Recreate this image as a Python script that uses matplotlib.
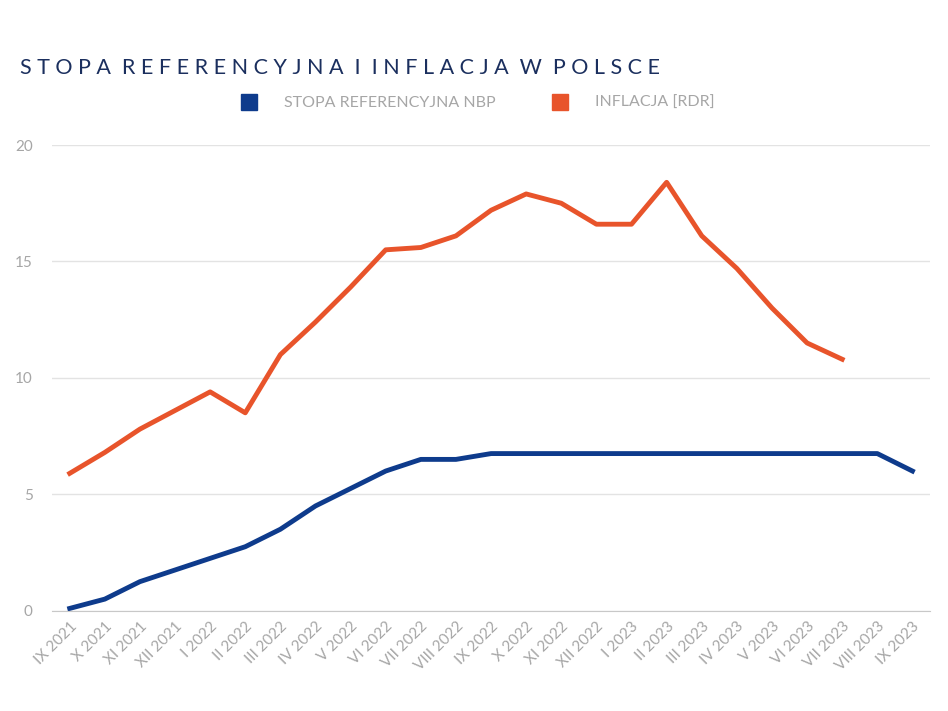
import matplotlib
matplotlib.use("Agg")
import matplotlib.pyplot as plt
from matplotlib.lines import Line2D

months = ["IX 2021", "X 2021", "XI 2021", "XII 2021", "I 2022", "II 2022", "III 2022",
          "IV 2022", "V 2022", "VI 2022", "VII 2022", "VIII 2022", "IX 2022", "X 2022",
          "XI 2022", "XII 2022", "I 2023", "II 2023", "III 2023", "IV 2023", "V 2023",
          "VI 2023", "VII 2023", "VIII 2023", "IX 2023"]
stopa = [0.1, 0.5, 1.25, 1.75, 2.25, 2.75, 3.5, 4.5, 5.25, 6.0, 6.5, 6.5, 6.75, 6.75,
         6.75, 6.75, 6.75, 6.75, 6.75, 6.75, 6.75, 6.75, 6.75, 6.75, 6.0]
inflacja = [5.9, 6.8, 7.8, 8.6, 9.4, 8.5, 11.0, 12.4, 13.9, 15.5, 15.6, 16.1, 17.2, 17.9,
            17.5, 16.6, 16.6, 18.4, 16.1, 14.7, 13.0, 11.5, 10.8]

BLUE = "#0e3b8c"
ORANGE = "#e8542b"
GRAY = "#a6a6a6"

plt.rcParams["font.family"] = ["Lato", "DejaVu Sans"]

fig = plt.figure(figsize=(9.48, 7.11), dpi=100)
ax = fig.add_axes([0.055, 0.141, 0.926, 0.655])

ax.plot(range(len(stopa)), stopa, color=BLUE, lw=3.5, solid_joinstyle="round")
ax.plot(range(len(inflacja)), inflacja, color=ORANGE, lw=3.5, solid_joinstyle="round")

ax.set_xlim(-0.5, len(months) - 0.5)
ax.set_ylim(0, 20)
ax.set_yticks([0, 5, 10, 15, 20])
ax.set_yticklabels(["0", "5", "10", "15", "20"])
ax.set_xticks(range(len(months)))
ax.set_xticklabels(months, rotation=45, ha="right", rotation_mode="anchor")
ax.tick_params(axis="both", length=0, colors=GRAY, labelsize=11)
ax.tick_params(axis="y", pad=14)
ax.tick_params(axis="x", pad=6)
ax.grid(axis="y", color="#e3e3e3", lw=1)
for s in ["top", "right", "left"]:
    ax.spines[s].set_visible(False)
ax.spines["bottom"].set_color("#c8c8c8")
ax.set_axisbelow(True)

fig.text(0.021, 0.905, "S T O P A  R E F E R E N C Y J N A  I  I N F L A C J A  W  P O L S C E",
         color="#1b2f5e", fontsize=15.5, va="center")

handles = [Line2D([], [], marker="s", ls="", color=BLUE, markersize=11),
           Line2D([], [], marker="s", ls="", color=ORANGE, markersize=11)]
leg = fig.legend(handles, ["STOPA REFERENCYJNA NBP", "INFLACJA [RDR]"], loc="center",
                 bbox_to_anchor=(0.5, 0.855), ncol=2, frameon=False, fontsize=11.5,
                 columnspacing=3.0, handletextpad=1.2)
for t in leg.get_texts():
    t.set_color(GRAY)

fig.savefig("out.png", dpi=100, facecolor="white")
